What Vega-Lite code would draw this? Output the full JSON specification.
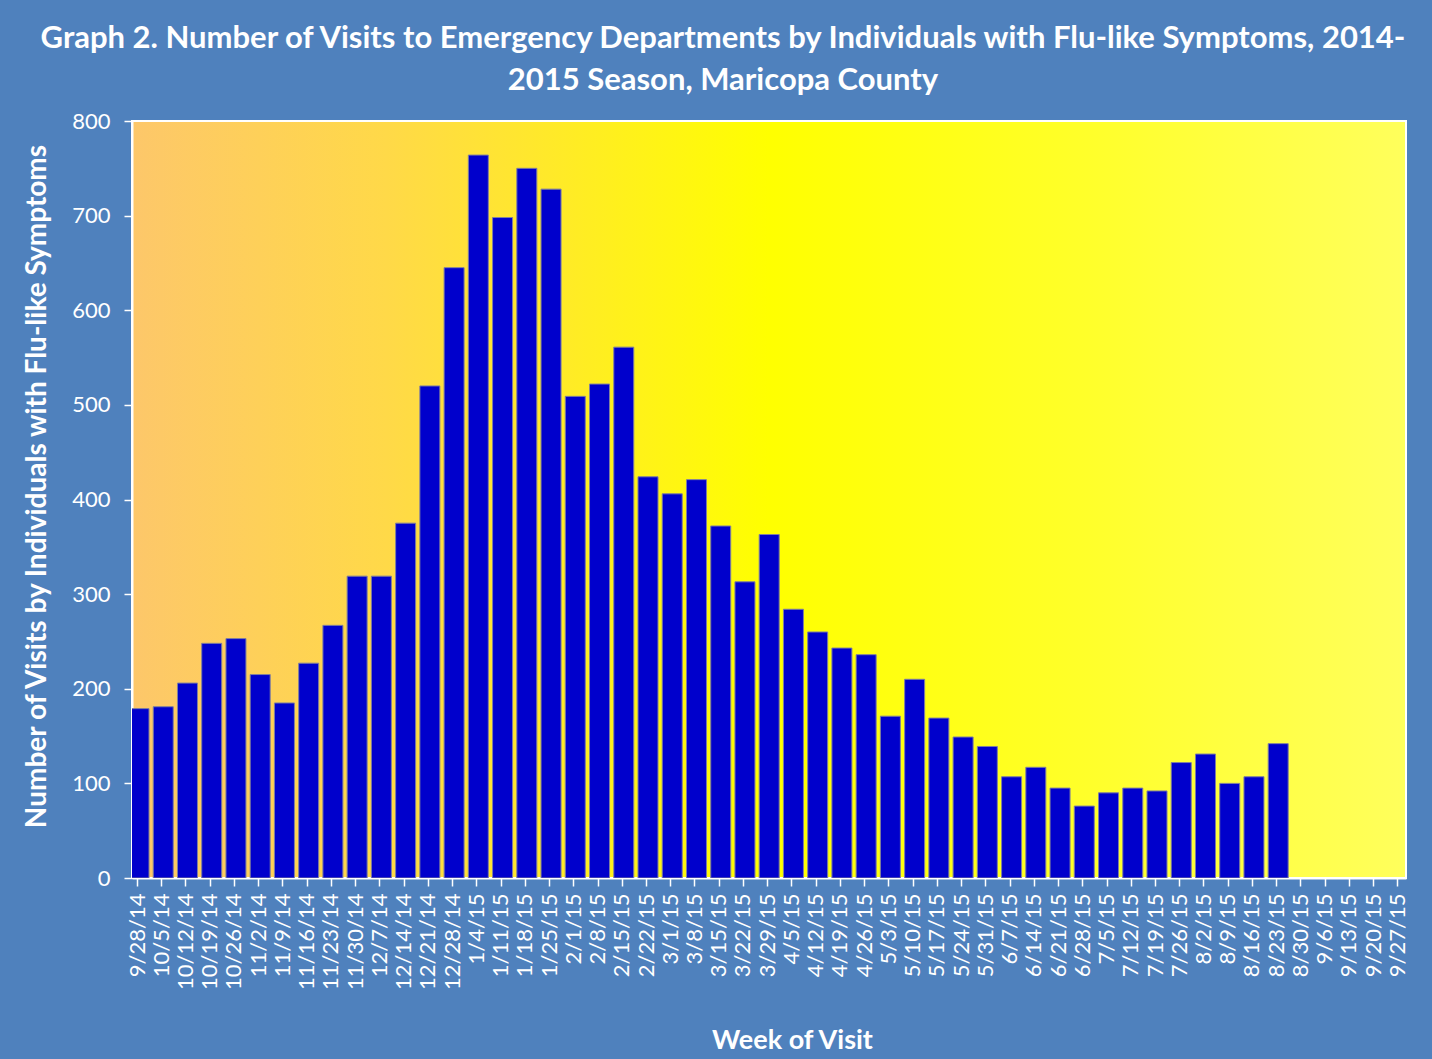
{
  "$schema": "https://vega.github.io/schema/vega-lite/v6.json",
  "autosize": {"type": "none"},
  "padding": {"left": 132, "top": 121, "right": 26, "bottom": 181},
  "width": 1274,
  "height": 757,
  "background": "#4F81BD",
  "view": {
    "fill": {"gradient": "linear", "x1": 0, "y1": 0, "x2": 1, "y2": 0,
      "stops": [
        {"offset": 0, "color": "#FDC76A"},
        {"offset": 0.2, "color": "#FFD948"},
        {"offset": 0.5, "color": "#FFFF00"},
        {"offset": 0.75, "color": "#FFFF2A"},
        {"offset": 1, "color": "#FFFF5C"}
      ]},
    "stroke": "#FFFFFF",
    "strokeWidth": 2
  },
  "title": {
    "text": ["Graph 2. Number of Visits  to Emergency Departments  by Individuals  with Flu-like Symptoms, 2014-", "2015 Season, Maricopa  County"],
    "font": "Lato",
    "fontSize": 31,
    "fontWeight": "bold",
    "color": "#FFFFFF",
    "lineHeight": 42,
    "anchor": "middle",
    "dx": -46,
    "offset": 13
  },
  "data": {
    "values": [
      {"week": "2014-09-28", "visits": 179},
      {"week": "2014-10-05", "visits": 181},
      {"week": "2014-10-12", "visits": 206},
      {"week": "2014-10-19", "visits": 248},
      {"week": "2014-10-26", "visits": 253},
      {"week": "2014-11-02", "visits": 215},
      {"week": "2014-11-09", "visits": 185},
      {"week": "2014-11-16", "visits": 227},
      {"week": "2014-11-23", "visits": 267},
      {"week": "2014-11-30", "visits": 319},
      {"week": "2014-12-07", "visits": 319},
      {"week": "2014-12-14", "visits": 375},
      {"week": "2014-12-21", "visits": 520},
      {"week": "2014-12-28", "visits": 645},
      {"week": "2015-01-04", "visits": 764},
      {"week": "2015-01-11", "visits": 698},
      {"week": "2015-01-18", "visits": 750},
      {"week": "2015-01-25", "visits": 728},
      {"week": "2015-02-01", "visits": 509},
      {"week": "2015-02-08", "visits": 522},
      {"week": "2015-02-15", "visits": 561},
      {"week": "2015-02-22", "visits": 424},
      {"week": "2015-03-01", "visits": 406},
      {"week": "2015-03-08", "visits": 421},
      {"week": "2015-03-15", "visits": 372},
      {"week": "2015-03-22", "visits": 313},
      {"week": "2015-03-29", "visits": 363},
      {"week": "2015-04-05", "visits": 284},
      {"week": "2015-04-12", "visits": 260},
      {"week": "2015-04-19", "visits": 243},
      {"week": "2015-04-26", "visits": 236},
      {"week": "2015-05-03", "visits": 171},
      {"week": "2015-05-10", "visits": 210},
      {"week": "2015-05-17", "visits": 169},
      {"week": "2015-05-24", "visits": 149},
      {"week": "2015-05-31", "visits": 139},
      {"week": "2015-06-07", "visits": 107},
      {"week": "2015-06-14", "visits": 117},
      {"week": "2015-06-21", "visits": 95},
      {"week": "2015-06-28", "visits": 76},
      {"week": "2015-07-05", "visits": 90},
      {"week": "2015-07-12", "visits": 95},
      {"week": "2015-07-19", "visits": 92},
      {"week": "2015-07-26", "visits": 122},
      {"week": "2015-08-02", "visits": 131},
      {"week": "2015-08-09", "visits": 100},
      {"week": "2015-08-16", "visits": 107},
      {"week": "2015-08-23", "visits": 142}
    ]
  },
  "mark": {
    "type": "bar",
    "width": 20,
    "xOffset": 2,
    "clip": true,
    "color": "#0000CC",
    "stroke": "#7F7F9F",
    "strokeWidth": 1
  },
  "encoding": {
    "x": {
      "field": "week",
      "type": "temporal",
      "scale": {"type": "utc", "domain": [
        {"year": 2014, "month": 9, "date": 28, "utc": true},
        {"year": 2015, "month": 9, "date": 28, "hours": 1, "utc": true}
      ]},
      "axis": {
        "title": "Week of Visit",
        "tickCount": {"interval": "week", "step": 1},
        "labelExpr": "utcFormat(datum.value, '%-m/%-d/%y')",
        "labelAngle": -90,
        "labelAlign": "right",
        "labelBaseline": "middle",
        "labelOverlap": false,
        "labelBound": false,
        "labelFlush": false,
        "labelFont": "Lato",
        "labelFontSize": 22,
        "labelColor": "#FFFFFF",
        "labelPadding": 7,
        "tickSize": 8,
        "tickColor": "#FFFFFF",
        "tickWidth": 1.5,
        "domainColor": "#FFFFFF",
        "domainWidth": 2,
        "grid": false,
        "titleFont": "Lato",
        "titleFontSize": 27,
        "titleFontWeight": "bold",
        "titleColor": "#FFFFFF",
        "titlePadding": 38,
        "titleAnchor": "middle",
        "titleX": 660
      }
    },
    "y": {
      "field": "visits",
      "type": "quantitative",
      "scale": {"domain": [0, 800], "nice": false},
      "axis": {
        "title": "Number of Visits by Individuals with Flu-like Symptoms",
        "values": [0, 100, 200, 300, 400, 500, 600, 700, 800],
        "labelFont": "Lato",
        "labelFontSize": 22,
        "labelColor": "#FFFFFF",
        "labelPadding": 14,
        "tickSize": 8,
        "tickColor": "#FFFFFF",
        "tickWidth": 1.5,
        "domainColor": "#FFFFFF",
        "domainWidth": 2,
        "grid": false,
        "titleFont": "Lato",
        "titleFontSize": 28,
        "titleFontWeight": "bold",
        "titleColor": "#FFFFFF",
        "titlePadding": 20,
        "titleY": 365
      }
    }
  }
}
